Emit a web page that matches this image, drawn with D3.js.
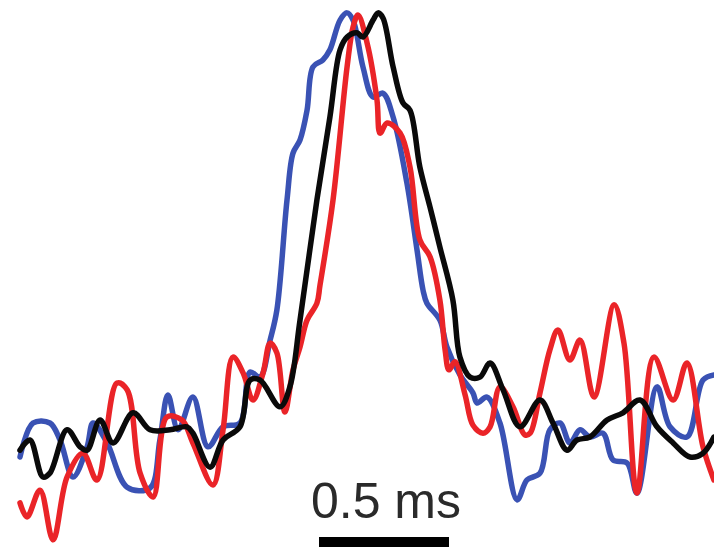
<!DOCTYPE html>
<html><head><meta charset="utf-8">
<script src="https://cdn.jsdelivr.net/npm/d3@7"></script>
<style>html,body{margin:0;padding:0;background:#fff;}svg{display:block;}</style>
</head><body>
<svg id="chart" width="714" height="547"></svg>
<script>
// time in ms, amplitude normalized (% of peak)
const blueT = [0.000,0.050,0.115,0.154,0.204,0.258,0.281,0.335,0.412,0.500,0.538,0.569,0.608,0.665,0.723,0.781,0.846,0.885,0.923,0.962,0.988,1.027,1.050,1.077,1.104,1.127,1.165,1.192,1.231,1.258,1.281,1.319,1.358,1.396,1.435,1.488,1.527,1.550,1.565,1.615,1.642,1.692,1.742,1.758,1.796,1.846,1.912,1.950,2.000,2.038,2.077,2.115,2.154,2.192,2.242,2.281,2.335,2.373,2.450,2.500,2.565,2.627,2.669];
const blueV = [-4.0,4.0,4.0,0.0,-8.7,-1.6,4.0,-0.7,-11.1,-11.3,0.0,10.6,2.4,10.1,-1.6,3.1,4.0,16.0,14.8,23.5,30.6,56.5,67.5,70.6,77.6,87.8,89.4,91.8,98.8,100.5,98.8,87.8,80.7,81.6,76.0,60.5,44.7,35.3,32.2,28.2,21.9,15.3,11.1,8.7,10.1,4.0,-14.1,-9.4,-7.8,2.4,4.0,-0.7,2.4,0.7,1.6,-4.7,-5.4,-12.5,12.5,3.1,0.7,14.1,15.3];

const redT = [0.000,0.027,0.077,0.127,0.181,0.242,0.296,0.373,0.412,0.462,0.512,0.565,0.623,0.665,0.742,0.781,0.819,0.858,0.896,0.935,0.962,0.988,1.019,1.050,1.077,1.104,1.142,1.154,1.204,1.258,1.281,1.300,1.335,1.373,1.385,1.412,1.462,1.500,1.538,1.577,1.615,1.635,1.650,1.673,1.712,1.742,1.781,1.808,1.846,1.896,1.942,1.962,2.000,2.038,2.069,2.115,2.154,2.208,2.285,2.323,2.373,2.438,2.512,2.565,2.627,2.669];
const redV = [-14.8,-18.1,-11.8,-23.5,-8.7,-3.1,-9.4,13.4,11.8,-7.8,-13.4,5.4,4.7,-0.7,-10.6,2.4,19.5,15.8,9.4,15.8,22.8,20.5,6.6,16.5,21.9,28.2,32.2,36.5,56.5,87.8,97.2,100.0,93.4,80.0,72.2,74.6,72.2,64.2,47.1,43.1,32.9,21.2,16.5,18.4,10.6,3.5,1.6,3.1,12.5,7.8,1.2,1.6,11.1,21.2,25.9,18.8,23.5,10.1,31.8,22.8,-12.5,19.5,9.4,18.1,-1.6,-9.4];

const blackT = [0.000,0.038,0.088,0.115,0.181,0.231,0.258,0.308,0.358,0.435,0.500,0.577,0.642,0.665,0.731,0.781,0.846,0.885,0.923,1.000,1.038,1.077,1.142,1.192,1.231,1.258,1.296,1.319,1.358,1.377,1.396,1.435,1.473,1.500,1.538,1.577,1.615,1.665,1.692,1.731,1.769,1.808,1.858,1.923,2.000,2.050,2.104,2.142,2.192,2.258,2.319,2.385,2.450,2.512,2.577,2.627,2.669];
const blackV = [-2.4,0.0,-8.7,-7.8,2.4,-1.6,-2.4,4.7,-0.7,6.4,2.4,2.4,3.1,1.6,-6.4,0.0,3.1,14.1,14.1,7.8,12.5,28.2,56.5,76.0,91.8,94.8,95.8,94.8,98.8,100.5,99.3,87.8,79.3,77.6,64.2,54.8,45.4,32.9,19.5,14.8,14.8,18.1,11.8,3.1,9.4,4.0,-2.4,0.0,0.7,4.7,6.4,9.4,3.1,-0.7,-4.0,-3.1,0.7];

const scaleBarStart = 1.15; // ms
const scaleBarLength = 0.5; // ms
const scaleBarLabel = "0.5 ms";

const series = [
  {name: "blue", t: blueT, v: blueV, color: "#3a52b4"},
  {name: "red", t: redT, v: redV, color: "#ea2428"},
  {name: "black", t: blackT, v: blackV, color: "#0a0a0a"}
];

const svg = d3.select("#chart");
const x = d3.scaleLinear().domain([0, 2.7]).range([20, 722]);
const y = d3.scaleLinear().domain([-25, 100]).range([546.25, 15]);

const line = d3.line()
  .x(d => x(d[0])).y(d => y(d[1]))
  .curve(d3.curveCatmullRom.alpha(0.5));

svg.append("g").selectAll("path").data(series).join("path")
  .attr("d", s => line(s.t.map((t, i) => [t, s.v[i]])))
  .attr("fill", "none")
  .attr("stroke", s => s.color)
  .attr("stroke-width", 5.5)
  .attr("stroke-linejoin", "round")
  .attr("stroke-linecap", "round");

const sb = svg.append("g");
sb.append("rect")
  .attr("x", x(scaleBarStart))
  .attr("y", 537)
  .attr("width", x(scaleBarStart + scaleBarLength) - x(scaleBarStart))
  .attr("height", 10)
  .attr("fill", "#000");
sb.append("text")
  .attr("x", x(scaleBarStart + scaleBarLength / 2) + 2)
  .attr("y", 518)
  .attr("text-anchor", "middle")
  .attr("font-family", "Liberation Sans, Arial, sans-serif")
  .attr("font-size", 50)
  .attr("fill", "#2a2a2a")
  .text(scaleBarLabel);
</script>
</body></html>
